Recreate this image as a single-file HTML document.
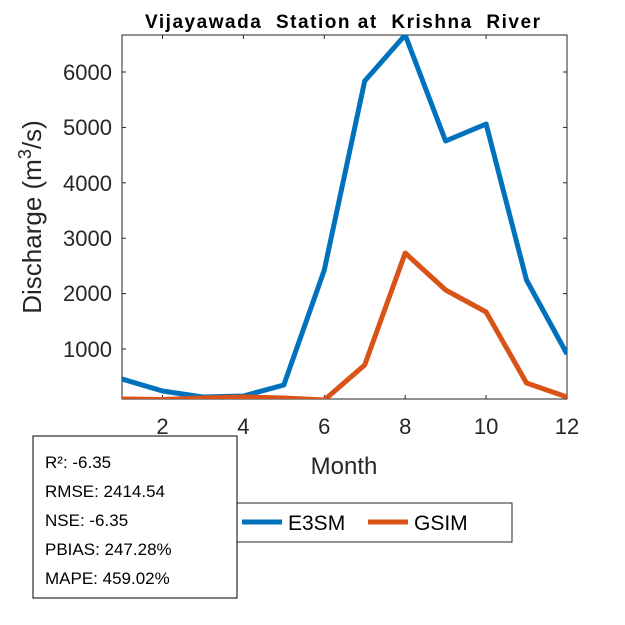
<!DOCTYPE html>
<html><head><style>body{margin:0;background:#fff}svg{display:block}</style></head><body>
<svg width="625" height="625" xmlns="http://www.w3.org/2000/svg" font-family="Liberation Sans, Arial, sans-serif">
<rect width="625" height="625" fill="#fff"/>
<rect x="122" y="35" width="445" height="364" fill="#fff" stroke="#262626" stroke-width="1"/>
<g stroke="#262626" stroke-width="1">
<line x1="162.5" y1="399" x2="162.5" y2="395"/><line x1="243.4" y1="399" x2="243.4" y2="395"/><line x1="324.3" y1="399" x2="324.3" y2="395"/><line x1="405.2" y1="399" x2="405.2" y2="395"/><line x1="486.1" y1="399" x2="486.1" y2="395"/>
<line x1="162.5" y1="35" x2="162.5" y2="39"/><line x1="243.4" y1="35" x2="243.4" y2="39"/><line x1="324.3" y1="35" x2="324.3" y2="39"/><line x1="405.2" y1="35" x2="405.2" y2="39"/><line x1="486.1" y1="35" x2="486.1" y2="39"/>
<line x1="122" y1="349" x2="126" y2="349"/><line x1="122" y1="293.6" x2="126" y2="293.6"/><line x1="122" y1="238.2" x2="126" y2="238.2"/><line x1="122" y1="182.8" x2="126" y2="182.8"/><line x1="122" y1="127.4" x2="126" y2="127.4"/><line x1="122" y1="72" x2="126" y2="72"/>
<line x1="567" y1="349" x2="563" y2="349"/><line x1="567" y1="293.6" x2="563" y2="293.6"/><line x1="567" y1="238.2" x2="563" y2="238.2"/><line x1="567" y1="182.8" x2="563" y2="182.8"/><line x1="567" y1="127.4" x2="563" y2="127.4"/><line x1="567" y1="72" x2="563" y2="72"/>
</g>
<g font-size="22" fill="#262626" text-anchor="middle">
<text x="162.5" y="434">2</text><text x="243.4" y="434">4</text><text x="324.3" y="434">6</text><text x="405.2" y="434">8</text><text x="486.1" y="434">10</text><text x="567" y="434">12</text>
</g>
<g font-size="22" fill="#262626" text-anchor="end">
<text x="112" y="357">1000</text><text x="112" y="301">2000</text><text x="112" y="246">3000</text><text x="112" y="191">4000</text><text x="112" y="135">5000</text><text x="112" y="80">6000</text>
</g>
<text x="344" y="474" font-size="24" fill="#262626" text-anchor="middle">Month</text>
<text transform="translate(41,217) rotate(-90)" font-size="26" fill="#262626" text-anchor="middle">Discharge (m<tspan font-size="18" dy="-10">3</tspan><tspan dy="10">/s)</tspan></text>
<text x="145" y="28" font-size="19" font-weight="bold" fill="#000" textLength="395" lengthAdjust="spacing" xml:space="preserve">Vijayawada  Station at  Krishna  River</text>
<svg x="122" y="35" width="445" height="364" overflow="hidden">
<polyline fill="none" stroke="#0072BD" stroke-width="5" stroke-linejoin="round" points="0,344 40.5,356 80.9,362 121.4,361 161.8,350 202.3,235 242.7,46 283.2,0 323.6,106 364.1,89 404.5,245 445,319"/>
<polyline fill="none" stroke="#D95319" stroke-width="5" stroke-linejoin="round" points="0,364 40.5,364.5 80.9,363 121.4,362 161.8,363 202.3,365 242.7,330 283.2,218 323.6,255 364.1,277 404.5,348 445,362"/>
</svg>
<rect x="237" y="503" width="275" height="39" fill="#fff" stroke="#262626" stroke-width="1"/>
<line x1="242" y1="522" x2="282" y2="522" stroke="#0072BD" stroke-width="5"/>
<text x="288" y="530" font-size="21" fill="#000">E3SM</text>
<line x1="368" y1="522" x2="408" y2="522" stroke="#D95319" stroke-width="5"/>
<text x="414" y="530" font-size="21" fill="#000">GSIM</text>
<rect x="33" y="436" width="204" height="162" fill="#fff" stroke="#000" stroke-width="1"/>
<g font-size="17" fill="#000">
<text x="45" y="468">R²: -6.35</text><text x="45" y="497">RMSE: 2414.54</text><text x="45" y="526">NSE: -6.35</text><text x="45" y="555">PBIAS: 247.28%</text><text x="45" y="584">MAPE: 459.02%</text>
</g>
</svg>
</body></html>
